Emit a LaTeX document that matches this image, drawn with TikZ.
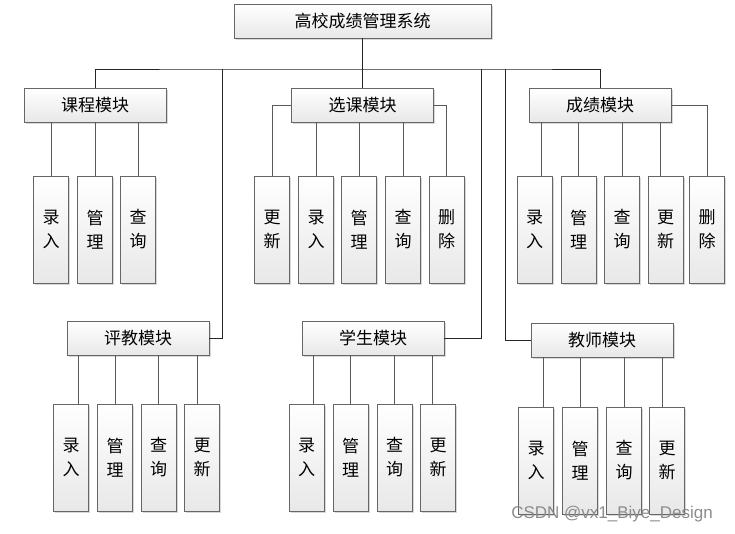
\documentclass[tikz,border=0pt]{standalone}
\usepackage{fontspec}
\setmainfont{Noto Sans CJK SC}
\newfontfamily\wmfont{Liberation Sans}
\usetikzlibrary{shadows}

\begin{document}
\begin{tikzpicture}[x=1pt,y=-1pt,
  box/.style={draw=black!60,line width=0.8pt,top color=white,bottom color=black!9,
    drop shadow={shadow xshift=1.6pt,shadow yshift=-1.6pt,fill=black!30,opacity=0.5},
    inner sep=0pt,font=\fontsize{17}{24}\selectfont},
  topbox/.style={box,minimum width=257pt,minimum height=34pt},
  modbox/.style={box,minimum width=142pt,minimum height=34pt},
  leafbox/.style={box,minimum width=35pt,minimum height=107pt,align=center},
  link/.style={draw=black!85,line width=0.8pt},
  sublink/.style={draw=black!65,line width=0.8pt}]
\useasboundingbox (0,0) rectangle (735,534);
\node[topbox] (sys) at (362.5,21) {高校成绩管理系统};
\node[modbox] (kc) at (95,105) {课程模块};
\node[modbox] (xk) at (362.5,105) {选课模块};
\node[modbox] (cj) at (600,105) {成绩模块};
\node[modbox] (pj) at (138,338) {评教模块};
\node[modbox] (xs) at (373,338) {学生模块};
\node[modbox] (js) at (602,340) {教师模块};
\coordinate (b1) at (222,69);
\coordinate (b2) at (481,69);
\coordinate (b3) at (505,69);
\node[leafbox] (kc1) at (51,229.5) {录\\入};
\node[leafbox] (kc2) at (95,229.5) {管\\理};
\node[leafbox] (kc3) at (138,229.5) {查\\询};
\node[leafbox] (xk1) at (272,229.5) {更\\新};
\node[leafbox] (xk2) at (316,229.5) {录\\入};
\node[leafbox] (xk3) at (359,229.5) {管\\理};
\node[leafbox] (xk4) at (403,229.5) {查\\询};
\node[leafbox] (xk5) at (446.5,229.5) {删\\除};
\node[leafbox] (cj1) at (534.5,229.5) {录\\入};
\node[leafbox] (cj2) at (578.5,229.5) {管\\理};
\node[leafbox] (cj3) at (622,229.5) {查\\询};
\node[leafbox] (cj4) at (665.5,229.5) {更\\新};
\node[leafbox] (cj5) at (707,229.5) {删\\除};
\node[leafbox] (pj1) at (71,457.5) {录\\入};
\node[leafbox] (pj2) at (115,457.5) {管\\理};
\node[leafbox] (pj3) at (158.5,457.5) {查\\询};
\node[leafbox] (pj4) at (202,457.5) {更\\新};
\node[leafbox] (xs1) at (306.5,457.5) {录\\入};
\node[leafbox] (xs2) at (350.5,457.5) {管\\理};
\node[leafbox] (xs3) at (394.5,457.5) {查\\询};
\node[leafbox] (xs4) at (438,457.5) {更\\新};
\node[leafbox] (js1) at (536,460.5) {录\\入};
\node[leafbox] (js2) at (580,460.5) {管\\理};
\node[leafbox] (js3) at (624,460.5) {查\\询};
\node[leafbox] (js4) at (667,460.5) {更\\新};
\draw[link] (sys.south) -- (xk.north);
\draw[link] (kc.north) |- (b1) -- (b3) -| (cj.north);
\draw[link] (pj.east) -| (b1);
\draw[link] (xs.east) -| (b2);
\draw[link] (js.west) -| (b3);
\draw[sublink] (kc1.north) -- (kc1.north |- kc.south);
\draw[sublink] (kc2.north) -- (kc2.north |- kc.south);
\draw[sublink] (kc3.north) -- (kc3.north |- kc.south);
\draw[sublink] (xk.west) -| (xk1.north);
\draw[sublink] (xk2.north) -- (xk2.north |- xk.south);
\draw[sublink] (xk3.north) -- (xk3.north |- xk.south);
\draw[sublink] (xk4.north) -- (xk4.north |- xk.south);
\draw[sublink] (xk.east) -| (xk5.north);
\draw[sublink] ([xshift=6.5pt]cj1.north) -- ([xshift=6.5pt]cj1.north |- cj.south);
\draw[sublink] (cj2.north) -- (cj2.north |- cj.south);
\draw[sublink] (cj3.north) -- (cj3.north |- cj.south);
\draw[sublink] ([xshift=-5.5pt]cj4.north) -- ([xshift=-5.5pt]cj4.north |- cj.south);
\draw[sublink] (cj.east) -| (cj5.north);
\draw[sublink] ([xshift=7pt]pj1.north) -- ([xshift=7pt]pj1.north |- pj.south);
\draw[sublink] (pj2.north) -- (pj2.north |- pj.south);
\draw[sublink] (pj3.north) -- (pj3.north |- pj.south);
\draw[sublink] ([xshift=-5pt]pj4.north) -- ([xshift=-5pt]pj4.north |- pj.south);
\draw[sublink] ([xshift=6.5pt]xs1.north) -- ([xshift=6.5pt]xs1.north |- xs.south);
\draw[sublink] (xs2.north) -- (xs2.north |- xs.south);
\draw[sublink] (xs3.north) -- (xs3.north |- xs.south);
\draw[sublink] ([xshift=-6pt]xs4.north) -- ([xshift=-6pt]xs4.north |- xs.south);
\draw[sublink] ([xshift=7pt]js1.north) -- ([xshift=7pt]js1.north |- js.south);
\draw[sublink] (js2.north) -- (js2.north |- js.south);
\draw[sublink] (js3.north) -- (js3.north |- js.south);
\draw[sublink] ([xshift=-5pt]js4.north) -- ([xshift=-5pt]js4.north |- js.south);
\node[font=\wmfont\fontsize{17}{17}\selectfont,text=black!45,inner sep=0pt] (wm) at (612,514) {CSDN @vx1\_Biye\_Design};
\end{tikzpicture}
\end{document}
